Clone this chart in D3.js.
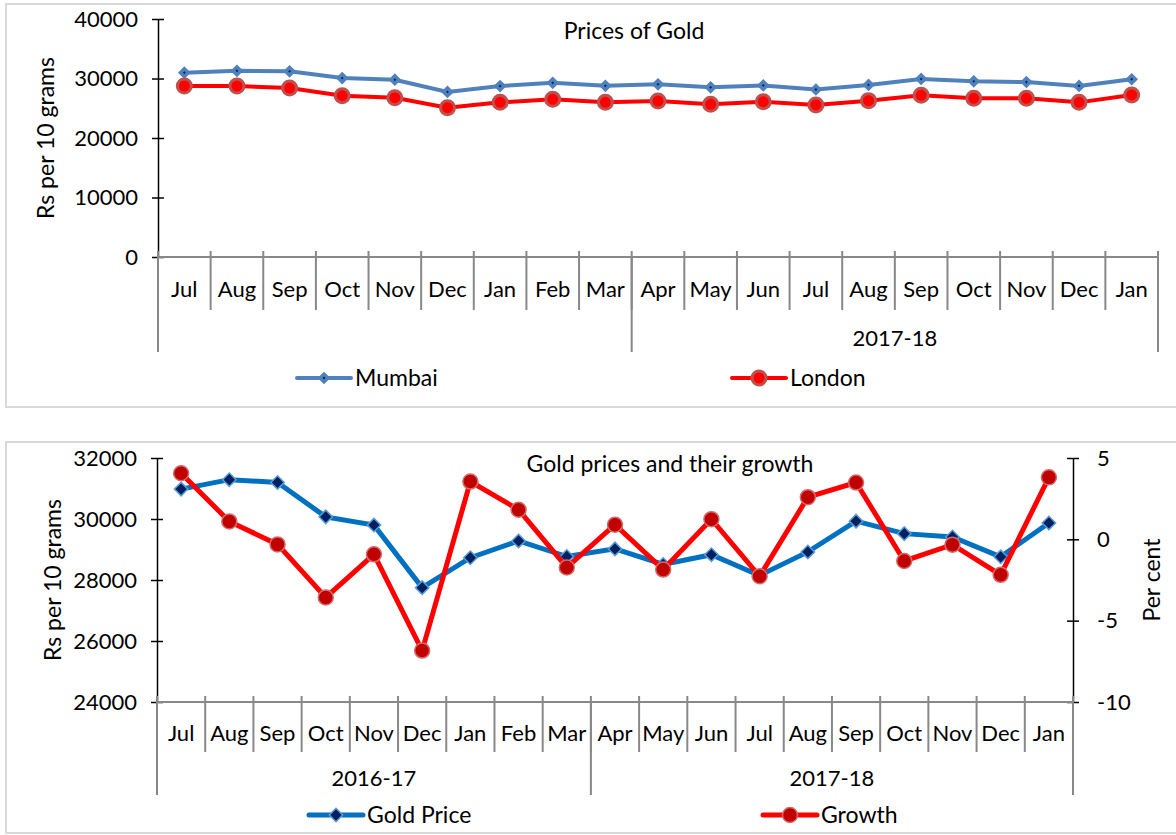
<!DOCTYPE html>
<html>
  <head>
    <title>Gold prices</title>
    <meta charset="utf-8">
    <style type="text/css">
      body {
        margin: 0;
        background: #fff;
        font-family: Lato, "Open Sans", sans-serif;
      }
      text {
        fill: #000;
        font-size: 22px;
      }
      .frame {
        fill: none;
        stroke: #d9d9d9;
        stroke-width: 2px;
      }
      .yaxis path, .yaxis line {
        stroke: #000;
        stroke-width: 1.5px;
      }
      .cat line {
        stroke: #888;
        stroke-width: 2px;
      }
    </style>
  </head>
  <body>
    <script src="https://cdn.jsdelivr.net/npm/d3@7"></script>
    <script>
    // data
    var months = ["Jul", "Aug", "Sep", "Oct", "Nov", "Dec", "Jan", "Feb", "Mar",
                  "Apr", "May", "Jun", "Jul", "Aug", "Sep", "Oct", "Nov", "Dec", "Jan"];
    var groupSizes = [9, 10];
    var topGroupLabels = ["", "2017-18"];
    var bottomGroupLabels = ["2016-17", "2017-18"];

    var mumbai = [30980, 31290, 31200, 30070, 29800, 27750, 28730, 29280, 28770, 29020,
                  28510, 28830, 28150, 28920, 29930, 29520, 29410, 28760, 29870];
    var london = [28740, 28740, 28400, 27110, 26770, 25090, 25990, 26500, 25990, 26220,
                  25660, 26100, 25550, 26280, 27170, 26670, 26670, 25990, 27230];
    var goldPrice = mumbai;
    var growth = [4.06, 1.10, -0.31, -3.57, -0.92, -6.84, 3.55, 1.82, -1.73, 0.90,
                  -1.86, 1.24, -2.27, 2.59, 3.49, -1.33, -0.33, -2.18, 3.81];

    var topTicks = [0, 10000, 20000, 30000, 40000];
    var bottomTicks = [24000, 26000, 28000, 30000, 32000];
    var pctTicks = [-10, -5, 0, 5];

    var svg = d3.select("body").append("svg")
        .attr("width", 1176)
        .attr("height", 835);

    var idx = d3.range(months.length);
    var fmt = function(d) { return String(d); };  // plain hyphen minus, no commas
    var square = d3.symbol().type(d3.symbolSquare);

    // draws the two-level category axis
    function catAxis(g, x, y0, groupLabels, tickBottom, groupBottom, labelY, groupY) {
      var bw = x.bandwidth();
      var cat = g.append("g").attr("class", "cat");
      cat.append("line")
          .attr("x1", x.range()[0]).attr("x2", x.range()[1])
          .attr("y1", y0).attr("y2", y0);
      cat.selectAll("line.sep")
          .data(d3.range(months.length + 1))
          .enter().append("line")
          .attr("class", "sep")
          .attr("x1", function(i) { return x.range()[0] + i * bw; })
          .attr("x2", function(i) { return x.range()[0] + i * bw; })
          .attr("y1", y0 - 6)
          .attr("y2", tickBottom);
      var bounds = [0];
      groupSizes.forEach(function(n, i) { bounds.push(bounds[i] + n); });
      cat.selectAll("line.grp")
          .data(bounds)
          .enter().append("line")
          .attr("class", "grp")
          .attr("x1", function(i) { return x.range()[0] + i * bw; })
          .attr("x2", function(i) { return x.range()[0] + i * bw; })
          .attr("y1", y0)
          .attr("y2", groupBottom);
      g.selectAll("text.month")
          .data(months)
          .enter().append("text")
          .attr("class", "month")
          .attr("x", function(d, i) { return x(i) + bw / 2; })
          .attr("y", labelY)
          .attr("text-anchor", "middle")
          .text(function(d) { return d; });
      g.selectAll("text.grp")
          .data(groupLabels)
          .enter().append("text")
          .attr("class", "grp")
          .attr("x", function(d, i) {
            return x.range()[0] + (bounds[i] + bounds[i + 1]) / 2 * bw;
          })
          .attr("y", groupY)
          .attr("text-anchor", "middle")
          .text(function(d) { return d; });
    }

    function legendItem(g, x0, y0, color, width, marker, label) {
      g.append("line")
          .attr("x1", x0).attr("x2", x0 + 54)
          .attr("y1", y0).attr("y2", y0)
          .style("stroke", color)
          .style("stroke-width", width)
          .style("stroke-linecap", "round");
      marker(g.append("g").attr("transform", "translate(" + (x0 + 27) + "," + y0 + ")"));
      g.append("text")
          .attr("x", x0 + 58)
          .attr("y", y0 + 8)
          .style("font-size", "23px")
          .text(label);
    }

    function styleTicks(g) {
      g.selectAll("text").style("font-size", "22px").style("font-family", "Lato");
    }

    // ---------- top chart ----------
    var topG = svg.append("g");
    topG.append("rect").attr("class", "frame")
        .attr("x", 6).attr("y", 4).attr("width", 1180).attr("height", 403);

    var x1 = d3.scaleBand().domain(idx).range([158, 1158]);
    var y1 = d3.scaleLinear().domain([0, 40000]).range([257, 19]);

    topG.append("g")
        .attr("class", "yaxis")
        .attr("transform", "translate(158,0)")
        .call(d3.axisLeft(y1).tickValues(topTicks).tickFormat(fmt)
              .tickSize(6).tickSizeOuter(0).tickPadding(14))
        .call(function(g) {
          g.selectAll(".tick line").attr("x1", 6).attr("x2", -6);
          styleTicks(g);
        });

    catAxis(topG, x1, 257, topGroupLabels, 310, 352, 297, 346);

    topG.append("text")
        .attr("x", 634).attr("y", 39)
        .attr("text-anchor", "middle")
        .style("font-size", "23px")
        .text("Prices of Gold");

    topG.append("text")
        .attr("transform", "translate(54,138) rotate(-90)")
        .attr("text-anchor", "middle")
        .style("font-size", "23px")
        .text("Rs per 10 grams");

    var line1 = d3.line()
        .x(function(d, i) { return x1(i) + x1.bandwidth() / 2; })
        .y(function(d) { return y1(d); });

    topG.append("path").datum(mumbai)
        .attr("d", line1)
        .style("fill", "none").style("stroke", "#4f81bd").style("stroke-width", 4);
    topG.append("path").datum(london)
        .attr("d", line1)
        .style("fill", "none").style("stroke", "#ff0000").style("stroke-width", 4);

    function mumbaiMark(g) {
      g.append("path").attr("d", square.size(30)())
          .attr("transform", "rotate(45)")
          .style("fill", "#002060").style("stroke", "#4f81bd").style("stroke-width", 3.5);
    }
    function londonMark(g) {
      g.append("circle").attr("r", 7)
          .style("fill", "#ff0000").style("stroke", "#c0504d").style("stroke-width", 3);
    }

    topG.selectAll("g.mum").data(mumbai).enter().append("g")
        .attr("class", "mum")
        .attr("transform", function(d, i) {
          return "translate(" + (x1(i) + x1.bandwidth() / 2) + "," + y1(d) + ")";
        })
        .each(function() { mumbaiMark(d3.select(this)); });
    topG.selectAll("g.lon").data(london).enter().append("g")
        .attr("class", "lon")
        .attr("transform", function(d, i) {
          return "translate(" + (x1(i) + x1.bandwidth() / 2) + "," + y1(d) + ")";
        })
        .each(function() { londonMark(d3.select(this)); });

    legendItem(topG, 297, 378, "#4f81bd", 4, mumbaiMark, "Mumbai");
    legendItem(topG, 732, 378, "#ff0000", 4, londonMark, "London");

    // ---------- bottom chart ----------
    var botG = svg.append("g");
    botG.append("rect").attr("class", "frame")
        .attr("x", 6).attr("y", 442).attr("width", 1180).attr("height", 391);

    var x2 = d3.scaleBand().domain(idx).range([157, 1073]);
    var y2 = d3.scaleLinear().domain([24000, 32000]).range([702, 458]);
    var y3 = d3.scaleLinear().domain([-10, 5]).range([702, 458]);

    botG.append("g")
        .attr("class", "yaxis")
        .attr("transform", "translate(157,0)")
        .call(d3.axisLeft(y2).tickValues(bottomTicks).tickFormat(fmt)
              .tickSize(6).tickSizeOuter(0).tickPadding(14))
        .call(function(g) {
          g.selectAll(".tick line").attr("x1", 6).attr("x2", -6);
          styleTicks(g);
        });

    botG.append("g")
        .attr("class", "yaxis")
        .attr("transform", "translate(1073,0)")
        .call(d3.axisRight(y3).tickValues(pctTicks).tickFormat(fmt)
              .tickSize(6).tickSizeOuter(0).tickPadding(18))
        .call(function(g) {
          g.selectAll(".tick line").attr("x1", -6).attr("x2", 6);
          styleTicks(g);
        });

    catAxis(botG, x2, 702, bottomGroupLabels, 752, 795, 741, 786);

    botG.append("text")
        .attr("x", 670).attr("y", 472)
        .attr("text-anchor", "middle")
        .style("font-size", "23px")
        .text("Gold prices and their growth");

    botG.append("text")
        .attr("transform", "translate(61,580) rotate(-90)")
        .attr("text-anchor", "middle")
        .style("font-size", "23px")
        .text("Rs per 10 grams");

    botG.append("text")
        .attr("transform", "translate(1160,580) rotate(-90)")
        .attr("text-anchor", "middle")
        .style("font-size", "23px")
        .text("Per cent");

    var line2 = d3.line()
        .x(function(d, i) { return x2(i) + x2.bandwidth() / 2; })
        .y(function(d) { return y2(d); });
    var line3 = d3.line()
        .x(function(d, i) { return x2(i) + x2.bandwidth() / 2; })
        .y(function(d) { return y3(d); });

    function goldMark(g) {
      g.append("path").attr("d", square.size(90)())
          .attr("transform", "rotate(45)")
          .style("fill", "#002060").style("stroke", "#5b9bd5").style("stroke-width", 1.5);
    }
    function growthMark(g) {
      g.append("circle").attr("r", 7.5)
          .style("fill", "#c00000").style("stroke", "#d46a6a").style("stroke-width", 1.5);
    }

    botG.append("path").datum(goldPrice)
        .attr("d", line2)
        .style("fill", "none").style("stroke", "#0070c0").style("stroke-width", 5);
    botG.selectAll("g.gold").data(goldPrice).enter().append("g")
        .attr("class", "gold")
        .attr("transform", function(d, i) {
          return "translate(" + (x2(i) + x2.bandwidth() / 2) + "," + y2(d) + ")";
        })
        .each(function() { goldMark(d3.select(this)); });

    botG.append("path").datum(growth)
        .attr("d", line3)
        .style("fill", "none").style("stroke", "#ff0000").style("stroke-width", 5);
    botG.selectAll("g.gr").data(growth).enter().append("g")
        .attr("class", "gr")
        .attr("transform", function(d, i) {
          return "translate(" + (x2(i) + x2.bandwidth() / 2) + "," + y3(d) + ")";
        })
        .each(function() { growthMark(d3.select(this)); });

    legendItem(botG, 309, 815, "#0070c0", 5, goldMark, "Gold Price");
    legendItem(botG, 763, 815, "#ff0000", 5, growthMark, "Growth");
    </script>
  </body>
</html>
